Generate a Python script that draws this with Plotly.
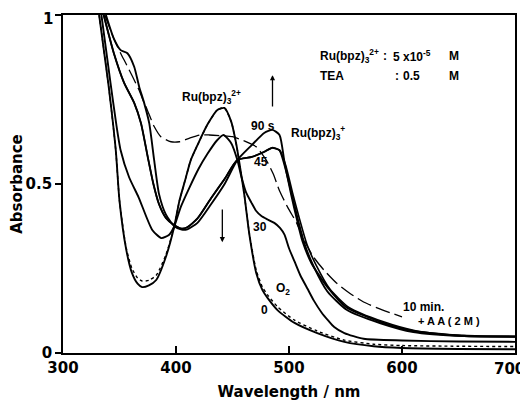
import plotly.graph_objects as go

# ---- data (wavelength nm, absorbance) ----
wl_0 = [332, 340, 346.7, 350, 356, 361, 366, 370, 376, 382.5, 391, 398.5, 403, 408, 413, 419, 427.7, 436.6, 442.8, 449, 453.5, 456, 460.5, 465, 471, 476.5, 481, 489.8, 504.9, 525, 549, 575, 600, 650, 700]
abs_0 = [1.0, 0.80, 0.60, 0.45, 0.305, 0.237, 0.205, 0.195, 0.200, 0.216, 0.284, 0.375, 0.45, 0.51, 0.57, 0.615, 0.675, 0.719, 0.725, 0.683, 0.615, 0.565, 0.467, 0.349, 0.237, 0.186, 0.163, 0.127, 0.089, 0.059, 0.033, 0.020, 0.015, 0.012, 0.011]

wl_o2 = [332, 340, 346.7, 350, 356, 361, 366, 370, 376, 382.5, 391, 398.5, 403, 408, 413, 419, 427.7, 436.6, 442.8, 449, 453.5, 456, 460.5, 465, 471, 476.5, 481, 489.8, 504.9, 525, 549, 575, 600, 650, 700]
abs_o2 = [1.0, 0.80, 0.60, 0.45, 0.31, 0.25, 0.222, 0.213, 0.215, 0.23, 0.29, 0.375, 0.45, 0.51, 0.57, 0.615, 0.675, 0.719, 0.725, 0.683, 0.615, 0.565, 0.467, 0.352, 0.245, 0.195, 0.172, 0.137, 0.097, 0.065, 0.038, 0.026, 0.022, 0.020, 0.019]

wl_30 = [334, 342, 347, 351, 358.5, 367, 379, 387, 394, 398.5, 404, 412, 420, 428, 436, 442, 449, 454.3, 458, 462, 466.7, 471, 475.6, 481, 487, 492, 496, 500, 505, 510, 516.4, 522, 528.8, 535, 540, 549, 566, 600, 650, 700]
abs_30 = [1.0, 0.80, 0.68, 0.60, 0.52, 0.46, 0.364, 0.34, 0.35, 0.375, 0.43, 0.49, 0.545, 0.59, 0.628, 0.645, 0.62, 0.571, 0.52, 0.475, 0.445, 0.42, 0.405, 0.395, 0.385, 0.37, 0.35, 0.31, 0.27, 0.23, 0.19, 0.155, 0.12, 0.095, 0.077, 0.059, 0.042, 0.037, 0.034, 0.033]

wl_45 = [336, 345, 354, 363, 369, 375, 380, 385, 391, 398.5, 405, 410, 419, 431, 443, 454.3, 467, 478, 485, 491.6, 496, 502, 507.5, 514, 522, 534, 551, 581, 610, 655, 700]
abs_45 = [1.0, 0.887, 0.80, 0.74, 0.68, 0.58, 0.50, 0.44, 0.40, 0.378, 0.368, 0.372, 0.398, 0.458, 0.515, 0.571, 0.58, 0.595, 0.607, 0.60, 0.556, 0.476, 0.40, 0.32, 0.255, 0.182, 0.128, 0.088, 0.062, 0.05, 0.048]

wl_60 = [336, 345, 354, 363, 369, 375, 380, 385, 391, 398.5, 405, 410, 419, 431, 443, 454.3, 467, 478, 485, 491.6, 497, 503, 509, 516, 524, 536, 553, 583, 612, 655, 700]
abs_60 = [1.0, 0.887, 0.80, 0.74, 0.68, 0.58, 0.50, 0.44, 0.40, 0.378, 0.368, 0.372, 0.398, 0.458, 0.515, 0.571, 0.58, 0.595, 0.607, 0.60, 0.556, 0.476, 0.40, 0.32, 0.26, 0.19, 0.135, 0.093, 0.066, 0.052, 0.049]

wl_90 = [338, 345, 351, 357, 363, 367.4, 371.8, 376.3, 380.7, 385, 391, 398.5, 405, 410, 419, 431, 443, 454.3, 467, 478, 485.4, 491.6, 496, 502, 507.5, 512, 520, 534, 551, 581, 610, 655, 700]
abs_90 = [1.0, 0.93, 0.896, 0.887, 0.847, 0.788, 0.74, 0.68, 0.57, 0.47, 0.41, 0.375, 0.365, 0.366, 0.385, 0.44, 0.50, 0.571, 0.615, 0.651, 0.66, 0.645, 0.565, 0.467, 0.388, 0.33, 0.265, 0.195, 0.135, 0.092, 0.065, 0.05, 0.049]

wl_aa = [337, 345, 351, 355.6, 361.5, 367, 371.8, 374.5, 380.7, 386.6, 395.5, 403, 412, 421, 429.5, 440, 450, 460, 471, 480, 486, 491.6, 499, 506.7, 514, 521.7, 531, 542, 554, 566, 583, 600]
abs_aa = [1.0, 0.93, 0.887, 0.857, 0.818, 0.78, 0.74, 0.72, 0.67, 0.64, 0.625, 0.625, 0.636, 0.645, 0.645, 0.643, 0.64, 0.628, 0.61, 0.57, 0.53, 0.48, 0.43, 0.385, 0.33, 0.284, 0.245, 0.207, 0.176, 0.151, 0.127, 0.107]

x_ticks = [300, 400, 500, 600, 700]
x_tick_text = ["300", "400", "500", "600", ""]
y_ticks = [0, 0.5, 1]
y_tick_text = ["0", "0.5", ""]

AXFONT = "DejaVu Sans"
LBFONT = "Liberation Sans"
fig = go.Figure()

def add(wl, ab, name, dash="solid", width=1.9):
    fig.add_trace(go.Scatter(x=wl, y=ab, mode="lines", name=name,
                             line=dict(color="black", width=width, dash=dash,
                                       shape="spline", smoothing=0.6),
                             showlegend=False))

add(wl_aa, abs_aa, "10 min + AA", dash="15px,5px", width=1.3)
add(wl_0, abs_0, "0")
add(wl_o2, abs_o2, "O2", dash="dot", width=1.4)
add(wl_30, abs_30, "30 s")
add(wl_45, abs_45, "45 s")
add(wl_60, abs_60, "bundle", width=1.6)
add(wl_90, abs_90, "90 s")

def txt(x, y, s, size=12, xanchor="center", family=LBFONT):
    fig.add_annotation(x=x, y=y, text="<b>" + s + "</b>", showarrow=False, xanchor=xanchor,
                       yanchor="middle", font=dict(family=family, size=size, color="black"))

txt(431.3, 0.757, "Ru(bpz)<sub>3</sub><sup>2+</sup>")
txt(477.4, 0.672, "90 s")
txt(525.3, 0.651, "Ru(bpz)<sub>3</sub><sup>+</sup>")
txt(475.3, 0.566, "45")
txt(474.5, 0.374, "30")
txt(495, 0.19, "O<sub>2</sub>")
txt(478.3, 0.127, "0")
txt(619, 0.137, "10 min.")
txt(642, 0.096, "+ A A ( 2 M )", size=11)

# condition box text
txt(525.3, 0.88, "Ru(bpz)<sub>3</sub><sup>2+</sup>", xanchor="left")
txt(581, 0.88, ":", xanchor="left")
txt(590, 0.88, "5 x10<sup>-5</sup>", xanchor="left")
txt(639.7, 0.88, "M", xanchor="left")
txt(525.3, 0.82, "TEA", xanchor="left")
txt(591.8, 0.82, ":", xanchor="left")
txt(599, 0.82, "0.5", xanchor="left")
txt(639.7, 0.82, "M", xanchor="left")

# end tick labels kept inside the page
fig.add_annotation(x=700, y=0, xref="x", yref="paper", text="<b>700</b>", showarrow=False,
                   xanchor="right", yanchor="top", xshift=12, yshift=-5,
                   font=dict(family=AXFONT, size=15, color="black"))
fig.add_annotation(x=0, y=1, xref="paper", yref="y", text="<b>1</b>", showarrow=False,
                   xanchor="right", yanchor="top", xshift=-8, yshift=7,
                   font=dict(family=AXFONT, size=15, color="black"))

# arrows
fig.add_annotation(x=485.4, y=0.822, ax=485.4, ay=0.725, xref="x", yref="y",
                   axref="x", ayref="y", showarrow=True, arrowhead=2,
                   arrowsize=0.8, arrowwidth=1.3, arrowcolor="black", text="")
fig.add_annotation(x=441, y=0.328, ax=441, ay=0.429, xref="x", yref="y",
                   axref="x", ayref="y", showarrow=True, arrowhead=2,
                   arrowsize=0.8, arrowwidth=1.3, arrowcolor="black", text="")

fig.update_layout(
    width=520, height=393,
    margin=dict(l=55, r=13, t=7, b=48, autoexpand=False),
    paper_bgcolor="white", plot_bgcolor="white",
    font=dict(family=AXFONT, size=14, color="black"),
    xaxis=dict(range=[300, 700], tickvals=x_ticks, ticktext=x_tick_text,
               ticks="inside", ticklen=7,
               tickwidth=1.5, tickcolor="black", showline=True, linecolor="black",
               linewidth=1.8, mirror=True, showgrid=False, zeroline=False,
               automargin=False, ticklabeloverflow="allow",
               title=dict(text="<b>Wavelength / nm</b>", standoff=12,
                          font=dict(family=AXFONT, size=15)),
               tickfont=dict(family=AXFONT, size=15, weight="bold")),
    yaxis=dict(range=[0, 1], tickvals=y_ticks, ticktext=y_tick_text, ticks="outside",
               ticklen=6, tickwidth=1.5, tickcolor="black", showline=True,
               linecolor="black", linewidth=1.8, mirror=True, showgrid=False,
               zeroline=False, automargin=False, ticklabeloverflow="allow",
               title=dict(text="<b>Absorbance</b>", standoff=6,
                          font=dict(family=AXFONT, size=15)),
               tickfont=dict(family=AXFONT, size=15, weight="bold")),
)

fig.write_html("out.html")
